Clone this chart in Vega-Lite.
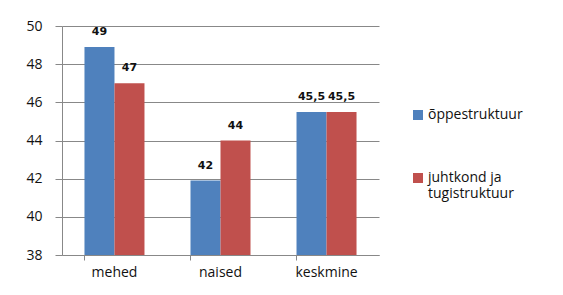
{
  "$schema": "https://vega.github.io/schema/vega-lite/v6.json",
  "autosize": "none",
  "width": 317,
  "height": 229,
  "padding": {"left": 62, "top": 26, "right": 184, "bottom": 40},
  "background": "white",
  "data": {"values": [
    {"grupp": "mehed", "seeria": "õppestruktuur", "väärtus": 48.9, "silt": "49"},
    {"grupp": "mehed", "seeria": "juhtkond ja|tugistruktuur", "väärtus": 47.0, "silt": "47"},
    {"grupp": "naised", "seeria": "õppestruktuur", "väärtus": 41.9, "silt": "42"},
    {"grupp": "naised", "seeria": "juhtkond ja|tugistruktuur", "väärtus": 44.0, "silt": "44"},
    {"grupp": "keskmine", "seeria": "õppestruktuur", "väärtus": 45.5, "silt": "45,5"},
    {"grupp": "keskmine", "seeria": "juhtkond ja|tugistruktuur", "väärtus": 45.5, "silt": "45,5"}
  ]},
  "encoding": {
    "x": {
      "field": "grupp", "type": "nominal", "sort": ["mehed", "naised", "keskmine"],
      "scale": {"paddingInner": 0.434, "paddingOuter": 0.212},
      "axis": {
        "title": null, "labelAngle": 0, "grid": false,
        "bandPosition": 0, "tickSize": 5, "tickColor": "#888", "domainColor": "#888",
        "labelFont": "Open Sans", "labelFontSize": 14, "labelColor": "#111", "labelPadding": 5
      }
    },
    "xOffset": {"field": "seeria", "type": "nominal", "sort": ["õppestruktuur", "juhtkond ja|tugistruktuur"], "scale": {"paddingInner": 0, "paddingOuter": 0}},
    "y": {
      "field": "väärtus", "type": "quantitative",
      "scale": {"domain": [38, 50], "nice": false, "zero": false},
      "axis": {
        "title": null, "values": [38, 40, 42, 44, 46, 48, 50], "labelOverlap": false,
        "grid": true, "gridColor": "#888", "tickColor": "#888", "domainColor": "#888",
        "tickSize": 7, "labelPadding": 13,
        "labelFont": "Open Sans", "labelFontSize": 14, "labelColor": "#111"
      }
    }
  },
  "layer": [
    {
      "mark": {"type": "bar"},
      "encoding": {
        "y2": {"datum": 38},
        "color": {
          "field": "seeria", "type": "nominal", "sort": ["õppestruktuur", "juhtkond ja|tugistruktuur"],
          "scale": {"range": ["#4F81BD", "#C0504D"]},
          "legend": {
            "title": null, "orient": "none", "legendX": 349, "legendY": 82,
            "symbolType": "square", "symbolSize": 100, "symbolStrokeWidth": 0,
            "labelFont": "Open Sans", "labelFontSize": 14, "labelColor": "#111",
            "labelExpr": "split(datum.label, '|')", "labelLineHeight": 18,
            "rowPadding": 49, "labelOffset": 3, "labelLimit": 200
          }
        }
      }
    },
    {
      "mark": {"type": "text", "baseline": "bottom", "dy": -10, "font": "DejaVu Sans", "fontWeight": "bold", "fontSize": 11, "color": "#111"},
      "encoding": {
        "text": {"field": "silt"}
      }
    }
  ],
  "config": {"view": {"stroke": null}}
}
